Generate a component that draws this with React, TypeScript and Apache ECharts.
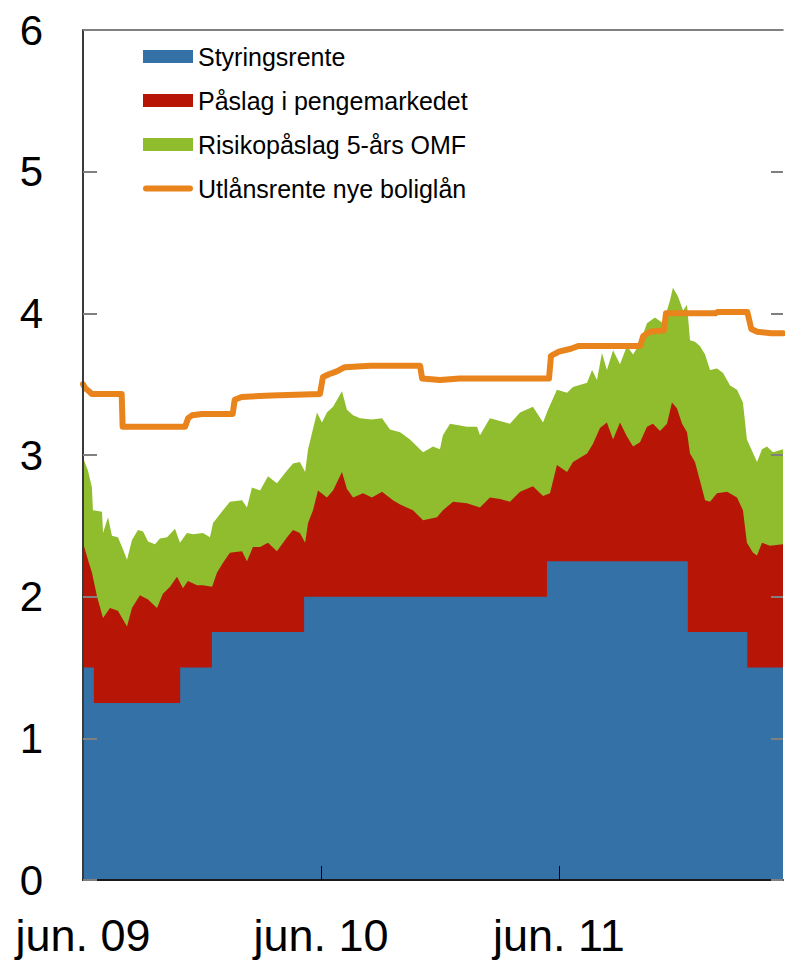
import React, { useEffect, useRef } from "react";
import * as echarts from "echarts";

// x values are months since 1 June 2009
const xMax = 35.3;
const tickMonths = [0, 12, 24];
const tickLabels = ["jun. 09", "jun. 10", "jun. 11"];

const seriesNames = [
  "Styringsrente",
  "Påslag i pengemarkedet",
  "Risikopåslag 5-års OMF",
  "Utlånsrente nye boliglån",
];

const policyRate: number[][] = [
  [0, 1.5], [0.55, 1.25], [4.9, 1.5], [6.5, 1.75], [11.15, 2.0],
  [23.4, 2.25], [30.5, 1.75], [33.5, 1.5], [35.3, 1.5],
];

const moneyMarketTop: number[][] = [
  [0, 2.38], [0.25, 2.26], [0.45, 2.17], [0.71, 2.0], [1.01, 1.85], [1.36, 1.92],
  [1.76, 1.9], [2.22, 1.79], [2.47, 1.92], [2.87, 2.01], [3.28, 1.98], [3.73, 1.92],
  [4.03, 2.02], [4.39, 2.07], [4.74, 2.14], [5.04, 2.06], [5.29, 2.11], [5.75, 2.08],
  [6.05, 2.08], [6.51, 2.07], [6.76, 2.17], [7.06, 2.24], [7.41, 2.31], [8.02, 2.32],
  [8.27, 2.25], [8.57, 2.35], [8.93, 2.35], [9.33, 2.38], [9.78, 2.32], [10.29, 2.42],
  [10.59, 2.47], [10.94, 2.45], [11.2, 2.38], [11.35, 2.52], [11.6, 2.61], [11.85, 2.75],
  [12.3, 2.7], [12.61, 2.75], [13.06, 2.88], [13.31, 2.76], [13.62, 2.7], [14.12, 2.73],
  [14.57, 2.7], [15.08, 2.74], [15.63, 2.68], [15.99, 2.65], [16.64, 2.61], [17.15, 2.54],
  [17.85, 2.56], [18.15, 2.61], [18.66, 2.67], [19.36, 2.66], [20.02, 2.63], [20.52, 2.7],
  [21.03, 2.69], [21.53, 2.67], [22.04, 2.74], [22.69, 2.78], [23.2, 2.71], [23.55, 2.73],
  [23.9, 2.93], [24.41, 2.88], [24.71, 2.95], [25.42, 3.01], [25.72, 3.08], [26.07, 3.19],
  [26.42, 3.23], [26.73, 3.11], [27.08, 3.23], [27.43, 3.13], [27.74, 3.06], [28.09, 3.09],
  [28.44, 3.2], [28.74, 3.22], [29.1, 3.17], [29.45, 3.22], [29.7, 3.37], [29.95, 3.33],
  [30.21, 3.22], [30.46, 3.16], [30.61, 3.01], [30.86, 2.95], [31.11, 2.82], [31.37, 2.68],
  [31.62, 2.67], [31.97, 2.73], [32.48, 2.74], [32.98, 2.7], [33.28, 2.61], [33.48, 2.38],
  [33.79, 2.31], [33.99, 2.29], [34.24, 2.38], [34.64, 2.36], [35.3, 2.37],
];

const omfTop: number[][] = [
  [0, 2.98], [0.25, 2.89], [0.45, 2.77], [0.5, 2.61], [0.96, 2.6], [1.01, 2.45],
  [1.26, 2.56], [1.46, 2.43], [1.76, 2.42], [1.97, 2.35], [2.22, 2.26], [2.47, 2.4],
  [2.77, 2.47], [3.03, 2.46], [3.28, 2.39], [3.63, 2.37], [3.88, 2.41], [4.24, 2.42],
  [4.64, 2.48], [4.89, 2.38], [5.24, 2.45], [5.55, 2.44], [6.05, 2.45], [6.4, 2.42],
  [6.56, 2.52], [7.06, 2.61], [7.41, 2.67], [8.02, 2.68], [8.27, 2.63], [8.52, 2.77],
  [8.93, 2.75], [9.33, 2.85], [9.78, 2.8], [10.29, 2.89], [10.59, 2.94], [10.94, 2.95],
  [11.2, 2.88], [11.35, 3.04], [11.8, 3.3], [12.05, 3.23], [12.3, 3.3], [12.61, 3.34],
  [13.06, 3.45], [13.31, 3.32], [13.62, 3.28], [13.97, 3.26], [14.57, 3.25], [15.08, 3.26],
  [15.48, 3.18], [15.99, 3.16], [16.49, 3.11], [16.99, 3.04], [17.15, 3.02], [17.65, 3.06],
  [18.0, 3.04], [18.15, 3.14], [18.51, 3.22], [19.36, 3.2], [19.87, 3.2], [20.02, 3.14],
  [20.52, 3.26], [21.03, 3.24], [21.53, 3.22], [22.04, 3.3], [22.69, 3.34], [23.2, 3.23],
  [23.45, 3.32], [23.9, 3.46], [24.41, 3.44], [24.71, 3.48], [25.42, 3.51], [25.67, 3.6],
  [25.92, 3.53], [26.17, 3.72], [26.42, 3.6], [26.73, 3.74], [27.08, 3.64], [27.43, 3.77],
  [27.74, 3.71], [28.09, 3.79], [28.44, 3.93], [28.84, 3.97], [29.25, 3.93], [29.6, 4.09],
  [29.75, 4.18], [30.0, 4.12], [30.26, 4.02], [30.46, 4.06], [30.61, 3.81], [30.86, 3.8],
  [31.11, 3.77], [31.37, 3.71], [31.62, 3.6], [31.97, 3.61], [32.27, 3.58], [32.63, 3.49],
  [32.98, 3.46], [33.28, 3.37], [33.48, 3.11], [33.64, 3.06], [33.99, 2.95], [34.24, 3.04],
  [34.49, 3.06], [34.8, 3.02], [35.3, 3.04],
];

const mortgageRate: number[][] = [
  [0, 3.5], [0.12, 3.47], [0.3, 3.45], [0.45, 3.43], [1.95, 3.43], [2.0, 3.2],
  [5.15, 3.2], [5.3, 3.26], [5.5, 3.28], [6.0, 3.29], [7.55, 3.29], [7.65, 3.39],
  [8.0, 3.41], [9.5, 3.42], [11.95, 3.43], [12.1, 3.55], [12.4, 3.57], [12.8, 3.59],
  [13.2, 3.62], [14.5, 3.63], [17.0, 3.63], [17.1, 3.54], [18.0, 3.53], [19.0, 3.54],
  [23.5, 3.54], [23.6, 3.7], [24.0, 3.73], [24.6, 3.75], [25.0, 3.77], [28.1, 3.77],
  [28.25, 3.84], [28.6, 3.87], [29.3, 3.88], [29.4, 4.0], [31.9, 4.0], [32.0, 4.01],
  [33.5, 4.01], [33.7, 3.89], [34.0, 3.87], [34.7, 3.86], [35.3, 3.86],
];

const FONT = "'Liberation Sans', Arial, Helvetica, sans-serif";
const BLUE = "#3471A6";
const RED = "#B71506";
const GREEN = "#8FBD2E";
const ORANGE = "#E9831C";

export default function App() {
  const ref = useRef<HTMLDivElement>(null);

  useEffect(() => {
    if (!ref.current) return;
    const chart = echarts.init(ref.current, undefined, { renderer: "svg" });

    const areaSeries = (name: string, data: number[][], color: string, step?: string) => ({
      name,
      type: "line",
      data,
      color,
      step: step || false,
      symbol: "none",
      showSymbol: false,
      lineStyle: { width: 0, color },
      areaStyle: { color, opacity: 1 },
      z: 2,
    });

    chart.setOption({
      animation: false,
      backgroundColor: "#ffffff",
      textStyle: { fontFamily: FONT },
      grid: { left: 83, right: 2, top: 30, bottom: 86, containLabel: false },
      legend: {
        orient: "vertical",
        left: 143,
        top: 43,
        padding: 0,
        itemWidth: 50,
        itemHeight: 13,
        itemGap: 17,
        selectedMode: false,
        textStyle: { fontSize: 25, lineHeight: 27, color: "#000", fontFamily: FONT },
        data: [
          { name: seriesNames[0], icon: "rect" },
          { name: seriesNames[1], icon: "rect" },
          { name: seriesNames[2], icon: "rect" },
          {
            name: seriesNames[3],
            icon: "path://M3,0 L47,0 A3,3 0 0 1 47,6 L3,6 A3,3 0 0 1 3,0 Z",
            itemStyle: { borderWidth: 0 },
          },
        ],
      },
      xAxis: [
        {
          type: "value",
          min: 0,
          max: xMax,
          position: "bottom",
          z: 10,
          axisLine: { show: true, onZero: false, lineStyle: { color: "#1a1a1a", width: 2 } },
          axisTick: {
            show: true,
            inside: true,
            length: 14,
            customValues: [12, 24],
            lineStyle: { color: "#000", width: 1 },
          },
          axisLabel: {
            show: true,
            customValues: tickMonths,
            fontSize: 45,
            color: "#000",
            margin: 33,
            fontFamily: FONT,
            showMinLabel: true,
            formatter: (v: number) => {
              const i = tickMonths.indexOf(Math.round(v));
              return i >= 0 ? tickLabels[i] : "";
            },
          },
          splitLine: { show: false },
        },
        {
          type: "value",
          min: 0,
          max: xMax,
          position: "top",
          z: 10,
          axisLine: { show: true, onZero: false, lineStyle: { color: "#555", width: 1.5 } },
          axisTick: { show: false },
          axisLabel: { show: false },
          splitLine: { show: false },
        },
      ],
      yAxis: [
        {
          type: "value",
          min: 0,
          max: 6,
          interval: 1,
          position: "left",
          z: 10,
          axisLine: { show: true, onZero: false, lineStyle: { color: "#3a3a3a", width: 2 } },
          axisTick: { show: true, inside: true, length: 14, lineStyle: { color: "#808080", width: 2 } },
          axisLabel: { fontSize: 42, color: "#000", margin: 40, fontFamily: FONT },
          splitLine: { show: false },
        },
        {
          type: "value",
          min: 0,
          max: 6,
          interval: 1,
          position: "right",
          z: 10,
          axisLine: { show: false, onZero: false },
          axisTick: { show: true, inside: true, length: 12, lineStyle: { color: "#808080", width: 2 } },
          axisLabel: { show: false },
          splitLine: { show: false },
        },
      ],
      series: [
        areaSeries(seriesNames[2], omfTop, GREEN),
        areaSeries(seriesNames[1], moneyMarketTop, RED),
        areaSeries(seriesNames[0], policyRate, BLUE, "end"),
        {
          name: seriesNames[3],
          type: "line",
          data: mortgageRate,
          color: ORANGE,
          symbol: "none",
          showSymbol: false,
          lineStyle: { width: 6, color: ORANGE, cap: "round", join: "round" },
          z: 3,
        },
      ],
    });

    return () => chart.dispose();
  }, []);

  return (
    <div
      ref={ref}
      style={{ position: "fixed", left: 0, top: 0, width: 785, height: 966, background: "#fff" }}
    />
  );
}
